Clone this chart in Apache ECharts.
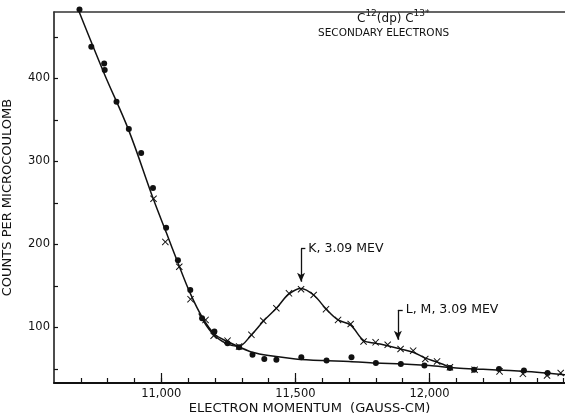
<!DOCTYPE html>
<html>
<head>
<meta charset="utf-8">
<script src="https://cdn.jsdelivr.net/npm/echarts@6/dist/echarts.min.js"></script>
<style>
html, body { margin: 0; padding: 0; background: #fff; }
#main { width: 565px; height: 415px; }
</style>
</head>
<body>
<div id="main"></div>
<script>
// filled dots
var dotX = [10695, 10739, 10787, 10789, 10833, 10879, 10925, 10969, 11018, 11062, 11108, 11152, 11198, 11247, 11290,
	11340, 11384, 11429, 11522, 11616, 11709, 11800, 11893, 11981, 12076, 12166, 12259, 12352, 12440];
var dotY = [483, 438, 418, 410, 372, 339, 310, 268, 220, 181, 145, 111, 95, 81, 76,
	67, 62, 61, 64, 60, 64, 57, 56, 54, 51, 49, 50, 48, 45];

// crosses
var crossX = [10971, 11015, 11067, 11109, 11165, 11195, 11247, 11290, 11336, 11380, 11429, 11476, 11521, 11568, 11614,
	11659, 11706, 11754, 11799, 11844, 11892, 11939, 11984, 12028, 12076, 12168, 12261, 12348, 12438, 12489];
var crossY = [255, 203, 173, 134, 109, 90, 84, 77, 91, 108, 123, 141, 146, 139, 122,
	109, 104, 83, 82, 79, 74, 72, 62, 59, 52, 49, 47, 44, 42, 45];

// drawn curves
var curveAX = [10694, 10787, 10878, 10970, 11019, 11063, 11108, 11153, 11198, 11246, 11287, 11340, 11400, 11500,
	11600, 11700, 11800, 11900, 12000, 12100, 12200, 12300, 12400, 12505];
var curveAY = [480, 406, 338, 255, 214, 177, 141, 112, 92, 83, 77, 70, 66, 62,
	60, 59, 57, 56, 54, 51, 49.5, 48, 46, 43];
var curveBX = [11140, 11190, 11240, 11287, 11336, 11382, 11429, 11475, 11521, 11568, 11615, 11659, 11705, 11755,
	11799, 11844, 11892, 11939, 11985, 12030, 12076];
var curveBY = [117, 93, 81, 77, 91, 108, 123, 140, 147, 139, 122, 109, 103, 84,
	81, 78, 74, 70, 63, 58, 52];

// ticks
var xMajorTicks = [11000, 11500, 12000];
var xMinorTicks = [10700, 10800, 10900, 11000, 11100, 11200, 11300, 11400, 11500, 11600, 11700, 11800, 11900,
	12000, 12100, 12200, 12300, 12400, 12500];
var yTicks = [50, 100, 150, 200, 250, 300, 350, 400, 450];
var yLabels = [100, 200, 300, 400];

function pairs(xs, ys) {
	return xs.map(function(x, i) { return [x, ys[i]]; });
}

var FONT = 'DejaVu Sans';
var INK = '#111';
var crossPath = 'path://M0,1L1,0L5,4L9,0L10,1L6,5L10,9L9,10L5,6L1,10L0,9L4,5Z';

var chart = echarts.init(document.getElementById('main'));

var option = {
	animation: false,
	backgroundColor: '#fff',
	textStyle: { fontFamily: FONT, color: INK },
	grid: {
		left: 54,
		right: 0,
		top: 12,
		bottom: 32,
		outerBoundsMode: 'none'
	},
	graphic: [{
		type: 'text',
		left: 357,
		top: 9,
		style: {
			text: '{c|C}{s|12}{c|(dp) C}{s|13*}',
			fill: INK,
			rich: {
				c: { fontFamily: FONT, fontSize: 12, lineHeight: 16, verticalAlign: 'bottom', fill: INK },
				s: { fontFamily: FONT, fontSize: 9, lineHeight: 16, verticalAlign: 'top', fill: INK }
			}
		}
	}, {
		type: 'text',
		left: 318,
		top: 28,
		style: { text: 'SECONDARY ELECTRONS', font: '10.5px "DejaVu Sans"', fill: INK }
	}],
	xAxis: [{
		type: 'value',
		position: 'bottom',
		min: 10600,
		max: 12505,
		name: 'ELECTRON MOMENTUM  (GAUSS-CM)',
		nameLocation: 'middle',
		nameGap: 19,
		nameMoveOverlap: false,
		nameTextStyle: { fontSize: 13, color: INK, fontFamily: FONT },
		axisLine: { lineStyle: { color: INK, width: 2 } },
		axisTick: { inside: true, length: 10, customValues: xMajorTicks, lineStyle: { color: INK, width: 1.2 } },
		axisLabel: {
			customValues: xMajorTicks,
			fontSize: 11.5,
			color: INK,
			margin: 5,
			formatter: function(v) { return v.toLocaleString('en-US'); }
		},
		splitLine: { show: false }
	}, {
		type: 'value',
		position: 'bottom',
		min: 10600,
		max: 12505,
		axisLine: { show: false },
		axisTick: { inside: true, length: 5, customValues: xMinorTicks, lineStyle: { color: INK, width: 1.2 } },
		axisLabel: { show: false },
		splitLine: { show: false }
	}, {
		type: 'value',
		position: 'top',
		min: 10600,
		max: 12505,
		axisLine: { lineStyle: { color: '#333', width: 1.5 } },
		axisTick: { show: false },
		axisLabel: { show: false },
		splitLine: { show: false }
	}],
	yAxis: [{
		type: 'value',
		min: 33,
		max: 480,
		name: 'COUNTS PER MICROCOULOMB',
		nameLocation: 'middle',
		nameGap: 40,
		nameMoveOverlap: false,
		nameRotate: 90,
		nameTextStyle: { fontSize: 13, color: INK, fontFamily: FONT },
		axisLine: { show: true, lineStyle: { color: INK, width: 1.5 } },
		axisTick: { inside: true, length: 4, customValues: yTicks, lineStyle: { color: INK, width: 1.2 } },
		axisLabel: { customValues: yLabels, fontSize: 11.5, color: INK, margin: 4 },
		splitLine: { show: false }
	}],
	series: [{
		type: 'line',
		name: 'curveA',
		data: pairs(curveAX, curveAY),
		smooth: 0.35,
		showSymbol: false,
		symbol: 'none',
		clip: false,
		lineStyle: { color: INK, width: 1.5 }
	}, {
		type: 'line',
		name: 'curveB',
		data: pairs(curveBX, curveBY),
		smooth: 0.35,
		showSymbol: false,
		symbol: 'none',
		lineStyle: { color: INK, width: 1.5 },
		markLine: {
			silent: true,
			symbol: ['none', 'arrow'],
			symbolSize: [6, 9],
			label: { show: false },
			lineStyle: { color: INK, width: 1.3, type: 'solid' },
			data: [
				[{ coord: [11521, 195] }, { coord: [11521, 155] }],
				[{ coord: [11521, 195], symbol: 'none' }, { coord: [11537, 195], symbol: 'none' }],
				[{ coord: [11882, 121] }, { coord: [11882, 85] }],
				[{ coord: [11882, 121], symbol: 'none' }, { coord: [11900, 121], symbol: 'none' }]
			]
		},
		markPoint: {
			silent: true,
			symbol: 'circle',
			symbolSize: 0,
			label: { show: true, position: 'right', distance: 3, fontSize: 12.5, color: INK, fontFamily: FONT },
			data: [
				{ coord: [11537, 195], label: { formatter: 'K, 3.09 MEV' } },
				{ coord: [11900, 121], label: { formatter: 'L, M, 3.09 MEV' } }
			]
		}
	}, {
		type: 'scatter',
		name: 'dots',
		data: pairs(dotX, dotY),
		symbol: 'circle',
		symbolSize: 6,
		clip: false,
		itemStyle: { color: INK, opacity: 1 }
	}, {
		type: 'scatter',
		name: 'crosses',
		data: pairs(crossX, crossY),
		symbol: crossPath,
		symbolSize: 7,
		clip: false,
		itemStyle: { color: INK, opacity: 1 }
	}]
};

chart.setOption(option);
</script>
</body>
</html>
